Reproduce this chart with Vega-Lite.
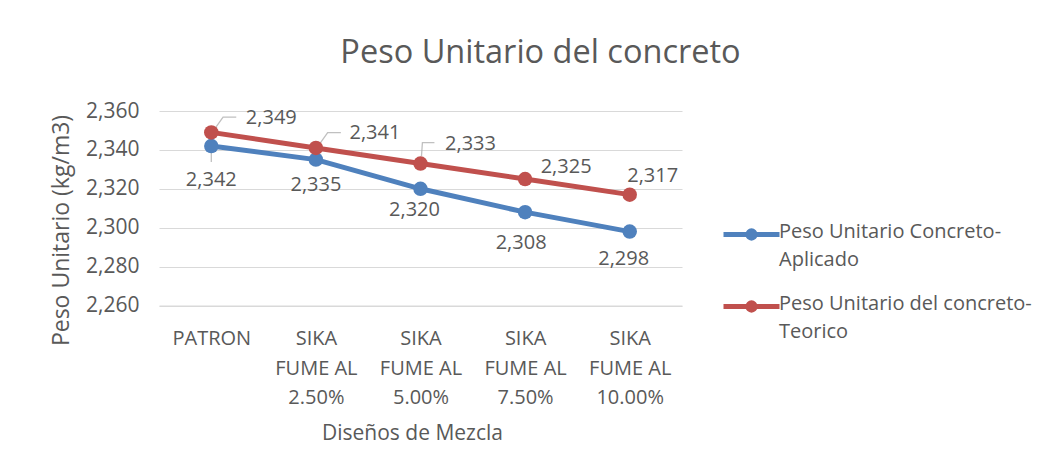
{
  "$schema": "https://vega.github.io/schema/vega-lite/v6.json",
  "autosize": "none",
  "width": 523,
  "height": 194.5,
  "padding": {"left": 159, "top": 111, "right": 382, "bottom": 169.5},
  "background": "white",
  "config": {
    "font": "Open Sans",
    "view": {"stroke": null},
    "text": {"font": "Open Sans", "fontSize": 20, "color": "#595959"}
  },
  "title": {
    "text": "Peso Unitario del concreto",
    "font": "Open Sans",
    "fontSize": 32.5,
    "fontWeight": "normal",
    "color": "#595959",
    "anchor": "middle",
    "frame": "group",
    "dx": 120,
    "baseline": "alphabetic",
    "offset": 5
  },
  "data": {
    "values": [
      {"c": "PATRON", "s": "Peso Unitario Concreto-Aplicado", "v": 2342},
      {"c": "SIKA FUME AL 2.50%", "s": "Peso Unitario Concreto-Aplicado", "v": 2335},
      {"c": "SIKA FUME AL 5.00%", "s": "Peso Unitario Concreto-Aplicado", "v": 2320},
      {"c": "SIKA FUME AL 7.50%", "s": "Peso Unitario Concreto-Aplicado", "v": 2308},
      {"c": "SIKA FUME AL 10.00%", "s": "Peso Unitario Concreto-Aplicado", "v": 2298},
      {"c": "PATRON", "s": "Peso Unitario del concreto-Teorico", "v": 2349},
      {"c": "SIKA FUME AL 2.50%", "s": "Peso Unitario del concreto-Teorico", "v": 2341},
      {"c": "SIKA FUME AL 5.00%", "s": "Peso Unitario del concreto-Teorico", "v": 2333},
      {"c": "SIKA FUME AL 7.50%", "s": "Peso Unitario del concreto-Teorico", "v": 2325},
      {"c": "SIKA FUME AL 10.00%", "s": "Peso Unitario del concreto-Teorico", "v": 2317}
    ]
  },
  "encoding": {
    "x": {
      "field": "c",
      "type": "nominal",
      "sort": null,
      "scale": {"type": "point", "padding": 0.5},
      "axis": {
        "title": "Diseños de Mezcla",
        "titleFont": "Open Sans",
        "titleFontSize": 21,
        "titleFontWeight": "normal",
        "titleColor": "#595959",
        "titleX": 253,
        "titleY": 133.5,
        "titleBaseline": "alphabetic",
        "titleAnchor": "middle",
        "labelExpr": "datum.label == 'PATRON' ? 'PATRON' : ['SIKA', 'FUME AL', substring(datum.label, 13)]",
        "labelFont": "Open Sans",
        "labelFontSize": 20,
        "labelColor": "#595959",
        "labelAngle": 0,
        "labelBaseline": "top",
        "labelLineHeight": 29.5,
        "labelPadding": 23,
        "ticks": false,
        "domain": true,
        "domainColor": "#d9d9d9",
        "domainWidth": 1,
        "grid": false
      }
    },
    "y": {
      "field": "v",
      "type": "quantitative",
      "scale": {"domain": [2260, 2360], "zero": false, "nice": false},
      "axis": {
        "title": "Peso Unitario (kg/m3)",
        "titleFont": "Open Sans",
        "titleFontSize": 23,
        "titleFontWeight": "normal",
        "titleColor": "#595959",
        "titleAngle": -90,
        "titleX": -98,
        "titleY": 119,
        "titleBaseline": "middle",
        "titleAlign": "center",
        "values": [2260, 2280, 2300, 2320, 2340, 2360],
        "format": ",.0f",
        "labelFont": "Open Sans",
        "labelFontSize": 21,
        "labelColor": "#595959",
        "labelPadding": 20,
        "ticks": false,
        "domain": false,
        "grid": true,
        "gridColor": "#d9d9d9",
        "gridWidth": 1
      }
    }
  },
  "layer": [
    {
      "mark": {"type": "line", "strokeWidth": 5, "strokeCap": "round", "strokeJoin": "round"},
      "encoding": {
        "color": {
          "field": "s",
          "type": "nominal",
          "scale": {
            "domain": ["Peso Unitario Concreto-Aplicado", "Peso Unitario del concreto-Teorico"],
            "range": ["#4F81BD", "#C0504D"]
          },
          "legend": {
            "title": null,
            "orient": "none",
            "legendX": 562,
            "legendY": 93,
            "padding": 0,
            "symbolType": "M-1,0L1,0M0.05,0A0.05,0.05,0,1,1,-0.05,0A0.05,0.05,0,1,1,0.05,0M0.13,0A0.13,0.13,0,1,1,-0.13,0A0.13,0.13,0,1,1,0.13,0",
            "symbolSize": 3136,
            "symbolStrokeWidth": 5,
            "symbolFillColor": "transparent",
            "labelExpr": "datum.label == 'Peso Unitario Concreto-Aplicado' ? ['Peso Unitario Concreto-', 'Aplicado'] : ['Peso Unitario del concreto-', 'Teorico']",
            "labelFont": "Open Sans",
            "labelFontSize": 20,
            "labelColor": "#595959",
            "labelOffset": -3,
            "labelLimit": 400,
            "labelBaseline": "top",
            "rowPadding": 6,
            "encode": {
              "labels": {"update": {"lineHeight": {"value": 28}, "dy": {"value": -13}}}
            }
          }
        }
      }
    },
    {
      "transform": [{"filter": "datum.s == 'Peso Unitario Concreto-Aplicado' && datum.c == 'PATRON'"}],
      "mark": {"type": "point", "shape": "M0,0.25L0,0.67", "size": 2304, "filled": false, "stroke": "#A6A6A6", "strokeWidth": 1.3}
    },
    {
      "transform": [{"filter": "datum.s == 'Peso Unitario del concreto-Teorico' && (datum.c == 'PATRON' || datum.c == 'SIKA FUME AL 2.50%')"}],
      "mark": {"type": "point", "shape": "M0.12,-0.12L0.49,-0.64L1.04,-0.64", "size": 2304, "filled": false, "stroke": "#A6A6A6", "strokeWidth": 1.3}
    },
    {
      "transform": [{"filter": "datum.s == 'Peso Unitario del concreto-Teorico' && datum.c == 'SIKA FUME AL 5.00%'"}],
      "mark": {"type": "point", "shape": "M0.04,-0.3L0.08,-0.87L0.58,-0.87", "size": 2304, "filled": false, "stroke": "#A6A6A6", "strokeWidth": 1.3}
    },
    {
      "mark": {"type": "point", "filled": true, "size": 210, "opacity": 1},
      "encoding": {
        "color": {"field": "s", "type": "nominal", "legend": null}
      }
    },
    {
      "transform": [{"filter": "datum.s == 'Peso Unitario Concreto-Aplicado' && datum.c == 'PATRON'"}],
      "mark": {"type": "text", "dx": 0, "dy": 34, "baseline": "middle"},
      "encoding": {"text": {"field": "v", "format": ",.0f"}}
    },
    {
      "transform": [{"filter": "datum.s == 'Peso Unitario Concreto-Aplicado' && datum.c == 'SIKA FUME AL 2.50%'"}],
      "mark": {"type": "text", "dx": 0, "dy": 25, "baseline": "middle"},
      "encoding": {"text": {"field": "v", "format": ",.0f"}}
    },
    {
      "transform": [{"filter": "datum.s == 'Peso Unitario Concreto-Aplicado' && datum.c == 'SIKA FUME AL 5.00%'"}],
      "mark": {"type": "text", "dx": -6, "dy": 21, "baseline": "middle"},
      "encoding": {"text": {"field": "v", "format": ",.0f"}}
    },
    {
      "transform": [{"filter": "datum.s == 'Peso Unitario Concreto-Aplicado' && datum.c == 'SIKA FUME AL 7.50%'"}],
      "mark": {"type": "text", "dx": -4, "dy": 31, "baseline": "middle"},
      "encoding": {"text": {"field": "v", "format": ",.0f"}}
    },
    {
      "transform": [{"filter": "datum.s == 'Peso Unitario Concreto-Aplicado' && datum.c == 'SIKA FUME AL 10.00%'"}],
      "mark": {"type": "text", "dx": -6, "dy": 27, "baseline": "middle"},
      "encoding": {"text": {"field": "v", "format": ",.0f"}}
    },
    {
      "transform": [{"filter": "datum.s == 'Peso Unitario del concreto-Teorico' && datum.c == 'PATRON'"}],
      "mark": {"type": "text", "dx": 60, "dy": -14, "baseline": "middle"},
      "encoding": {"text": {"field": "v", "format": ",.0f"}}
    },
    {
      "transform": [{"filter": "datum.s == 'Peso Unitario del concreto-Teorico' && datum.c == 'SIKA FUME AL 2.50%'"}],
      "mark": {"type": "text", "dx": 59, "dy": -15, "baseline": "middle"},
      "encoding": {"text": {"field": "v", "format": ",.0f"}}
    },
    {
      "transform": [{"filter": "datum.s == 'Peso Unitario del concreto-Teorico' && datum.c == 'SIKA FUME AL 5.00%'"}],
      "mark": {"type": "text", "dx": 50, "dy": -20, "baseline": "middle"},
      "encoding": {"text": {"field": "v", "format": ",.0f"}}
    },
    {
      "transform": [{"filter": "datum.s == 'Peso Unitario del concreto-Teorico' && datum.c == 'SIKA FUME AL 7.50%'"}],
      "mark": {"type": "text", "dx": 41, "dy": -12, "baseline": "middle"},
      "encoding": {"text": {"field": "v", "format": ",.0f"}}
    },
    {
      "transform": [{"filter": "datum.s == 'Peso Unitario del concreto-Teorico' && datum.c == 'SIKA FUME AL 10.00%'"}],
      "mark": {"type": "text", "dx": 23, "dy": -19, "baseline": "middle"},
      "encoding": {"text": {"field": "v", "format": ",.0f"}}
    }
  ]
}
